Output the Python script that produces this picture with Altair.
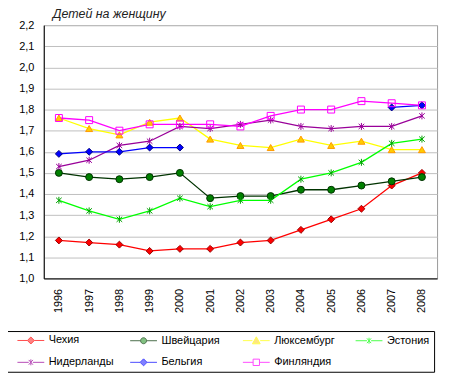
import altair as alt
import pandas as pd

years = [str(y) for y in range(1996, 2009)]
countries = ["Чехия", "Швейцария", "Люксембург", "Эстония", "Нидерланды", "Бельгия", "Финляндия"]

czech = [1.18, 1.17, 1.16, 1.13, 1.14, 1.14, 1.17, 1.18, 1.23, 1.28, 1.33, 1.44, 1.50]
swiss = [1.50, 1.48, 1.47, 1.48, 1.50, 1.38, 1.39, 1.39, 1.42, 1.42, 1.44, 1.46, 1.48]
luxembourg = [1.76, 1.71, 1.68, 1.74, 1.76, 1.66, 1.63, 1.62, 1.66, 1.63, 1.65, 1.61, 1.61]
estonia = [1.37, 1.32, 1.28, 1.32, 1.38, 1.34, 1.37, 1.37, 1.47, 1.50, 1.55, 1.64, 1.66]
netherlands = [1.53, 1.56, 1.63, 1.65, 1.72, 1.71, 1.73, 1.75, 1.72, 1.71, 1.72, 1.72, 1.77]
belgium = [1.59, 1.60, 1.60, 1.62, 1.62, None, None, None, None, None, None, 1.81, 1.82]
finland = [1.76, 1.75, 1.70, 1.73, 1.73, 1.73, 1.72, 1.77, 1.80, 1.80, 1.84, 1.83, 1.82]

y_ticks = [1.0, 1.1, 1.2, 1.3, 1.4, 1.5, 1.6, 1.7, 1.8, 1.9, 2.0, 2.1, 2.2]

series = [czech, swiss, luxembourg, estonia, netherlands, belgium, finland]

line_colors = ["#FF0000", "#003300", "#FFFF00", "#00FF00", "#990099", "#0000FF", "#FF00FF"]
marker_fill = ["#FF0000", "#008000", "#FFCC00", "transparent", "transparent", "#0000FF", "transparent"]
marker_stroke = ["#990000", "#003300", "#FF9900", "#00A000", "#990099", "#000080", "#FF00FF"]
marker_size = [49, 49, 81, 64, 49, 49, 64]

ast = "M0,-1V1M-0.8,-0.75L0.8,0.75M-0.8,0.75L0.8,-0.75"
marker_shapes = ["diamond", "circle", "triangle-up", ast, ast, "diamond", "square"]

# legend symbols: line + marker (marker centered at 3.625, scale 4px/unit)
def lg(marker, l, r):
    return f"M0.25,0H{l}M{r},0H7" + marker

leg_shapes = [
    lg("M3.625,-0.875L4.5,0L3.625,0.875L2.75,0Z", 2.75, 4.5),
    lg("M2.875,0A0.75,0.75 0 1,0 4.375,0A0.75,0.75 0 1,0 2.875,0Z", 2.875, 4.375),
    lg("M3.625,-0.95L4.6,0.8L2.65,0.8Z", 2.65, 4.6),
    lg("M3.625,-0.75V0.75M3.1,-0.6L4.15,0.6M3.1,0.6L4.15,-0.6", 3.1, 4.15),
    lg("M3.625,-0.75V0.75M3.1,-0.6L4.15,0.6M3.1,0.6L4.15,-0.6", 3.1, 4.15),
    lg("M3.625,-0.875L4.5,0L3.625,0.875L2.75,0Z", 2.75, 4.5),
    lg("M2.825,-0.8H4.425V0.8H2.825Z", 2.825, 4.425),
]
leg_fill = ["#FF0000", "#008000", "#FFCC00", "transparent", "transparent", "#0000FF", "transparent"]

rows = []
for c, vals in zip(countries, series):
    for y, v in zip(years, vals):
        rows.append({"country": c, "year": y, "value": v})
df = pd.DataFrame(rows)

x_enc = alt.X(
    "year:O",
    scale=alt.Scale(type="point", padding=0.5),
    axis=alt.Axis(
        title=None, labelAngle=270, labelFontSize=11, labelColor="black",
        labelPadding=10, ticks=False, domainColor="black", grid=False,
        labelAlign="right", labelBaseline="middle",
    ),
)
y_enc = alt.Y(
    "value:Q",
    scale=alt.Scale(domain=[1.0, 2.2], zero=False, nice=False),
    axis=alt.Axis(
        title=None, values=y_ticks, labelFontSize=11, labelColor="black",
        labelPadding=10, ticks=False, domainColor="black", gridColor="#C0C0C0",
        labelExpr="replace(format(datum.value, '.1f'), '.', ',')",
    ),
)

base = alt.Chart(df)

lines = base.mark_line(strokeWidth=1.3).encode(
    x=x_enc, y=y_enc,
    stroke=alt.Stroke("country:N", scale=alt.Scale(domain=countries, range=line_colors), legend=None),
    detail="country:N",
)

points = base.transform_filter("isValid(datum.value)").mark_point(filled=True, strokeWidth=1, opacity=1).encode(
    x=x_enc, y=y_enc,
    shape=alt.Shape("country:N", scale=alt.Scale(domain=countries, range=marker_shapes), legend=None),
    fill=alt.Fill("country:N", scale=alt.Scale(domain=countries, range=marker_fill), legend=None),
    stroke=alt.Stroke("country:N", scale=alt.Scale(domain=countries, range=marker_stroke), legend=None),
    size=alt.Size("country:N", scale=alt.Scale(domain=countries, range=marker_size), legend=None),
)

legend_props = alt.Legend(
    title=None, orient="none", legendX=-37, legendY=308, columns=4,
    direction="horizontal",
    strokeColor="black", fillColor="white", padding=4,
    columnPadding=9.5, rowPadding=10, gridAlign="all",
    labelFontSize=11, labelColor="black", labelOffset=27,
    symbolSize=64, symbolStrokeWidth=1, labelLimit=200,
)

legend_layer = base.transform_filter("datum.value < 0").mark_point(filled=True).encode(
    x=x_enc, y=y_enc,
    shape=alt.Shape("country:N", scale=alt.Scale(domain=countries, range=leg_shapes), legend=legend_props),
    fill=alt.Fill("country:N", scale=alt.Scale(domain=countries, range=leg_fill), legend=legend_props),
    stroke=alt.Stroke("country:N", scale=alt.Scale(domain=countries, range=line_colors), legend=legend_props),
)

chart = alt.layer(lines, points, legend_layer).resolve_scale(
    shape="independent", fill="independent", stroke="independent"
).properties(
    width=396, height=255,
    autosize=alt.AutoSizeParams(type="none"),
    padding={"left": 36, "top": 16, "right": 10, "bottom": 96},
    title=alt.TitleParams(
        "Детей на женщину", anchor="start", frame="group", dx=9, dy=7, offset=6,
        fontSize=12.5, fontStyle="italic", fontWeight="normal", color="#222222",
    ),
).configure(
    font="Liberation Sans",
).configure_view(
    stroke="#999999", strokeWidth=1,
)

chart.save("out.html", embed_options={"renderer": "svg", "actions": False})
